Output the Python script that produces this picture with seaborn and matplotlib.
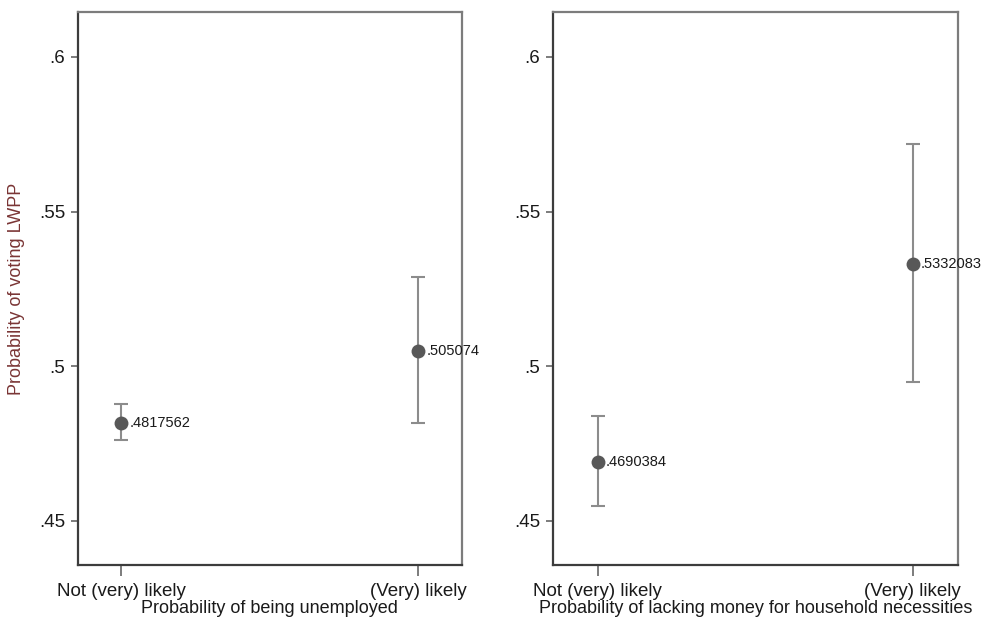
import matplotlib
matplotlib.use("Agg")
import matplotlib.pyplot as plt
import seaborn as sns
import pandas as pd

# Predicted probabilities of voting LWPP with 95% confidence intervals
categories = ["Not (very) likely", "(Very) likely"]

unemp_est = [0.4817562, 0.505074]
unemp_lo = [0.4761, 0.4816]
unemp_hi = [0.4877, 0.5290]

money_est = [0.4690384, 0.5332083]
money_lo = [0.4548, 0.4948]
money_hi = [0.4839, 0.5719]

y_ticks = [0.45, 0.5, 0.55, 0.6]
y_tick_labels = [".45", ".5", ".55", ".6"]

x_titles = ["Probability of being unemployed",
            "Probability of lacking money for household necessities"]
y_title = "Probability of voting LWPP"

sns.set_theme(style="white")
plt.rcParams["font.family"] = ["Liberation Sans", "DejaVu Sans"]

fig = plt.figure(figsize=(9.84, 6.17), dpi=100)
ax1 = fig.add_axes([0.0788, 0.0843, 0.3907, 0.8963])
ax2 = fig.add_axes([0.5617, 0.0843, 0.4116, 0.8963])

marker_col = "#585858"
bar_col = "#8c8c8c"
text_col = "#1a1a1a"

panels = [
    (ax1, unemp_est, unemp_lo, unemp_hi, (-0.1465, 1.148)),
    (ax2, money_est, money_lo, money_hi, (-0.143, 1.143)),
]

for i, (ax, est, lo, hi, xlim) in enumerate(panels):
    df = pd.DataFrame({"pos": range(len(categories)), "est": est,
                       "lo": lo, "hi": hi, "label": categories})
    ax.errorbar(df["pos"], df["est"],
                yerr=[df["est"] - df["lo"], df["hi"] - df["est"]],
                fmt="none", ecolor=bar_col, elinewidth=1.5,
                capsize=5, capthick=1.5, zorder=2)
    sns.scatterplot(data=df, x="pos", y="est", ax=ax, color=marker_col,
                    s=100, edgecolor=marker_col, linewidth=0, zorder=3)
    for _, row in df.iterrows():
        ax.annotate(f"{row['est']:.7g}".lstrip("0"),
                    xy=(row["pos"], row["est"]), xytext=(6, 0),
                    textcoords="offset points", ha="left", va="center",
                    fontsize=10.5, color=text_col, zorder=4)

    ax.set_xlim(*xlim)
    ax.set_ylim(0.43578, 0.61454)
    ax.set_xticks(df["pos"])
    ax.set_xticklabels(categories, fontsize=13.5, color=text_col)
    ax.set_yticks(y_ticks)
    ax.set_yticklabels(y_tick_labels, fontsize=13.5, color=text_col)
    ax.tick_params(axis="y", which="major", direction="out", length=5,
                   width=1.2, color="#666666", pad=4, left=True)
    ax.tick_params(axis="x", which="major", direction="out", length=8,
                   width=1.2, color="#666666", pad=5, bottom=True)
    ax.set_xlabel(x_titles[i], fontsize=13, color=text_col, labelpad=0)
    ax.set_ylabel("")
    ax.grid(False)
    for side in ["left", "bottom"]:
        ax.spines[side].set_color("#3c3c3c")
        ax.spines[side].set_linewidth(1.6)
    for side in ["top", "right"]:
        ax.spines[side].set_color("#7c7c7c")
        ax.spines[side].set_linewidth(1.6)

ax1.set_ylabel(y_title, fontsize=13, color="#7a3535", labelpad=10)

fig.savefig("out.png", dpi=100, facecolor="white")
